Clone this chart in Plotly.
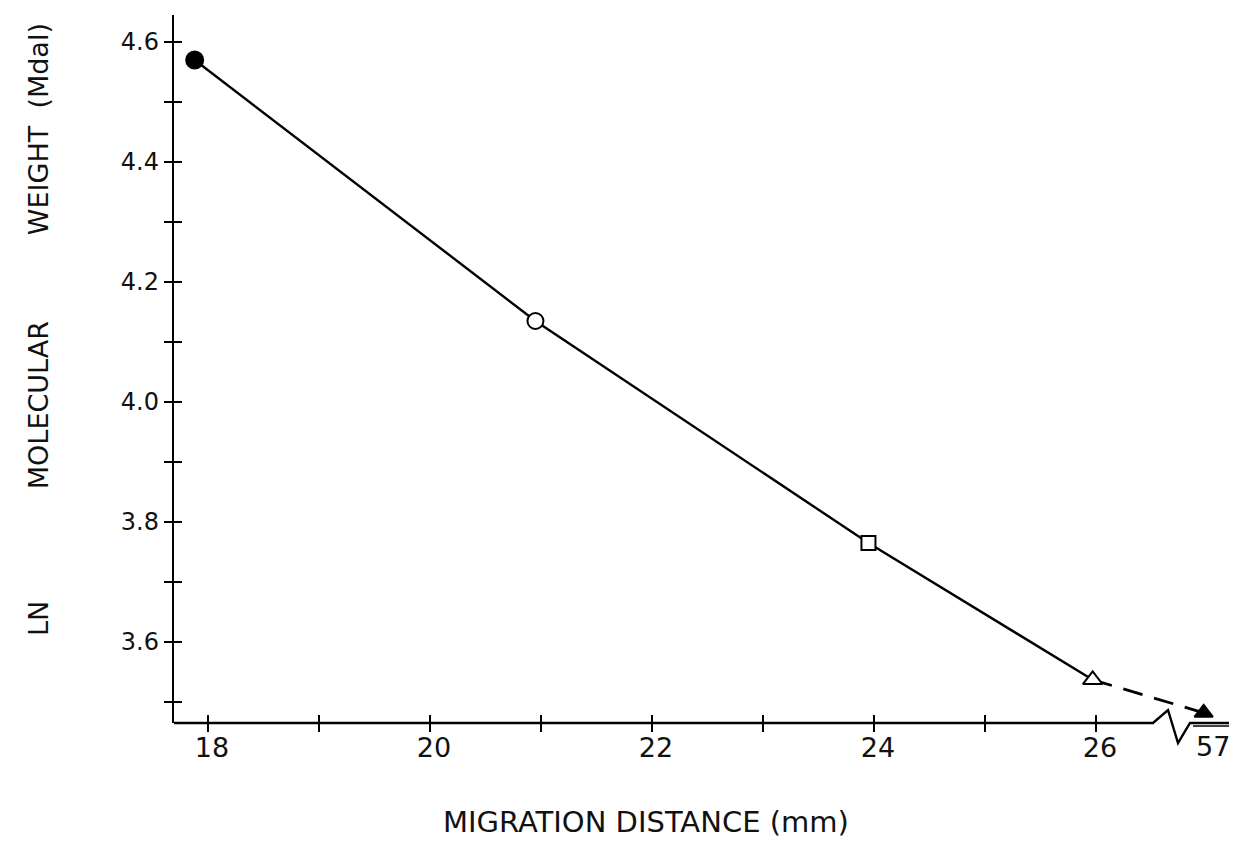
import plotly.graph_objects as go

# ---- data ----
migration_mm = [17.88, 20.95, 23.95, 25.97, 57.0]
ln_mol_weight = [4.57, 4.135, 3.765, 3.537, 3.482]
marker_symbols = ["circle", "circle", "square", "triangle-up", "triangle-up"]
marker_fills = ["black", "white", "white", "white", "black"]
marker_sizes = [17, 16, 14, 17, 16]

x_tick_vals = [18, 19, 20, 21, 22, 23, 24, 25, 26]
x_tick_text = ["18", "", "20", "", "22", "", "24", "", "26"]
y_tick_vals = [3.5, 3.6, 3.7, 3.8, 3.9, 4.0, 4.1, 4.2, 4.3, 4.4, 4.5, 4.6]
y_tick_text = ["", "3.6", "", "3.8", "", "4.0", "", "4.2", "", "4.4", "", "4.6"]
broken_label = "57"

# broken x axis: values past the break are drawn just after it
AXIS_BREAK = 26.5
BROKEN_POS = 26.97


def display_x(v):
    return v if v < AXIS_BREAK else BROKEN_POS


xd = [display_x(v) for v in migration_mm]

FONT = "DejaVu Sans"
OFF = 8                      # page body margin in the browser
W, H = 1237 - OFF, 841 - OFF
PL, PR, PT, PB = 174, 1232, 15, 723   # plot area in page pixels
ML, MT = PL - OFF, PT - OFF
MR = W - (PR - OFF)
MB = H - (PB - OFF)
PW, PH = PR - PL, PB - PT


def px(xp):
    return (xp - PL) / PW


def py(yp):
    return (PB - yp) / PH


fig = go.Figure()

# solid part
fig.add_trace(go.Scatter(x=xd[:4], y=ln_mol_weight[:4], mode="lines",
                         line=dict(color="black", width=2.4), hoverinfo="skip",
                         showlegend=False))
# dashed part toward the broken-axis point
fig.add_trace(go.Scatter(x=xd[3:], y=ln_mol_weight[3:], mode="lines",
                         line=dict(color="black", width=2.8, dash="20px,12px"),
                         hoverinfo="skip", showlegend=False))
# markers
fig.add_trace(go.Scatter(x=xd, y=ln_mol_weight, mode="markers",
                         marker=dict(symbol=marker_symbols, color=marker_fills,
                                     size=marker_sizes, opacity=1,
                                     line=dict(color="black", width=2)),
                         showlegend=False))
# invisible trace that carries the inner half of the crossing ticks
fig.add_trace(go.Scatter(x=xd, y=ln_mol_weight, mode="markers",
                         marker=dict(opacity=0), xaxis="x2", yaxis="y2",
                         hoverinfo="skip", showlegend=False))

xr = [18 + (PL - 208) / 111, 18 + (PR - 208) / 111]
yr = [4.6 - (PB - 42) / 600, 4.6 + (42 - PT) / 600]

fig.update_layout(
    width=W, height=H,
    margin=dict(l=ML, r=MR, t=MT, b=MB),
    paper_bgcolor="white", plot_bgcolor="white",
    font=dict(family=FONT, color="black"),
    xaxis=dict(range=xr, showgrid=False, zeroline=False, showline=False,
               tickmode="array", tickvals=x_tick_vals, showticklabels=False,
               ticks="outside", ticklen=8, tickwidth=2, tickcolor="black"),
    yaxis=dict(range=yr, showgrid=False, zeroline=False, showline=True,
               linecolor="black", linewidth=2.4,
               tickmode="array", tickvals=y_tick_vals, ticktext=y_tick_text,
               ticks="outside", ticklen=8, tickwidth=2, tickcolor="black",
               tickfont=dict(family=FONT, size=24, color="#111")),
    xaxis2=dict(range=xr, matches="x", overlaying="x", anchor="y2",
                showgrid=False, zeroline=False, showline=False,
                tickmode="array", tickvals=x_tick_vals, ticktext=x_tick_text,
                ticks="inside", ticklen=8, tickwidth=2, tickcolor="black",
                tickfont=dict(family=FONT, size=27, color="#111"),
                ticklabelshift=4, ticklabelstandoff=6),
    yaxis2=dict(range=yr, matches="y", overlaying="y", anchor="x2",
                showgrid=False, zeroline=False, showline=False,
                tickmode="array", tickvals=y_tick_vals, showticklabels=False,
                ticks="inside", ticklen=8, tickwidth=2, tickcolor="black"),
)

# x axis line with the break symbol
pts = [(PL, 723), (1153, 723), (1168, 710), (1178, 743), (1190, 723), (1232, 723)]
path = "M " + " L ".join(f"{px(a):.5f},{py(b):.5f}" for a, b in pts)
fig.add_shape(type="path", path=path, xref="paper", yref="paper",
              line=dict(color="black", width=2.4))
fig.add_shape(type="line", xref="paper", yref="paper",
              x0=px(1193), x1=px(1232), y0=py(726), y1=py(726),
              line=dict(color="black", width=1.5))

fig.add_annotation(x=BROKEN_POS, y=0, xref="x", yref="paper", text=broken_label,
                   showarrow=False, yanchor="top", yshift=-6, xshift=9,
                   font=dict(family=FONT, size=27, color="#111"))

# axis titles
fig.add_annotation(x=px(646), y=py(822), xref="paper", yref="paper",
                   text="MIGRATION DISTANCE (mm)", showarrow=False,
                   xanchor="center", yanchor="middle",
                   font=dict(family=FONT, size=29, color="#111"))
NB = "\u00a0"
fig.add_annotation(x=px(38), y=py(330), xref="paper", yref="paper",
                   text="LN" + NB * 13 + "MOLECULAR" + NB * 10 + "WEIGHT" + NB * 2 + "(Mdal)",
                   showarrow=False, textangle=-90,
                   xanchor="center", yanchor="middle",
                   font=dict(family=FONT, size=27, color="#111"))

fig.write_html("out.html")
